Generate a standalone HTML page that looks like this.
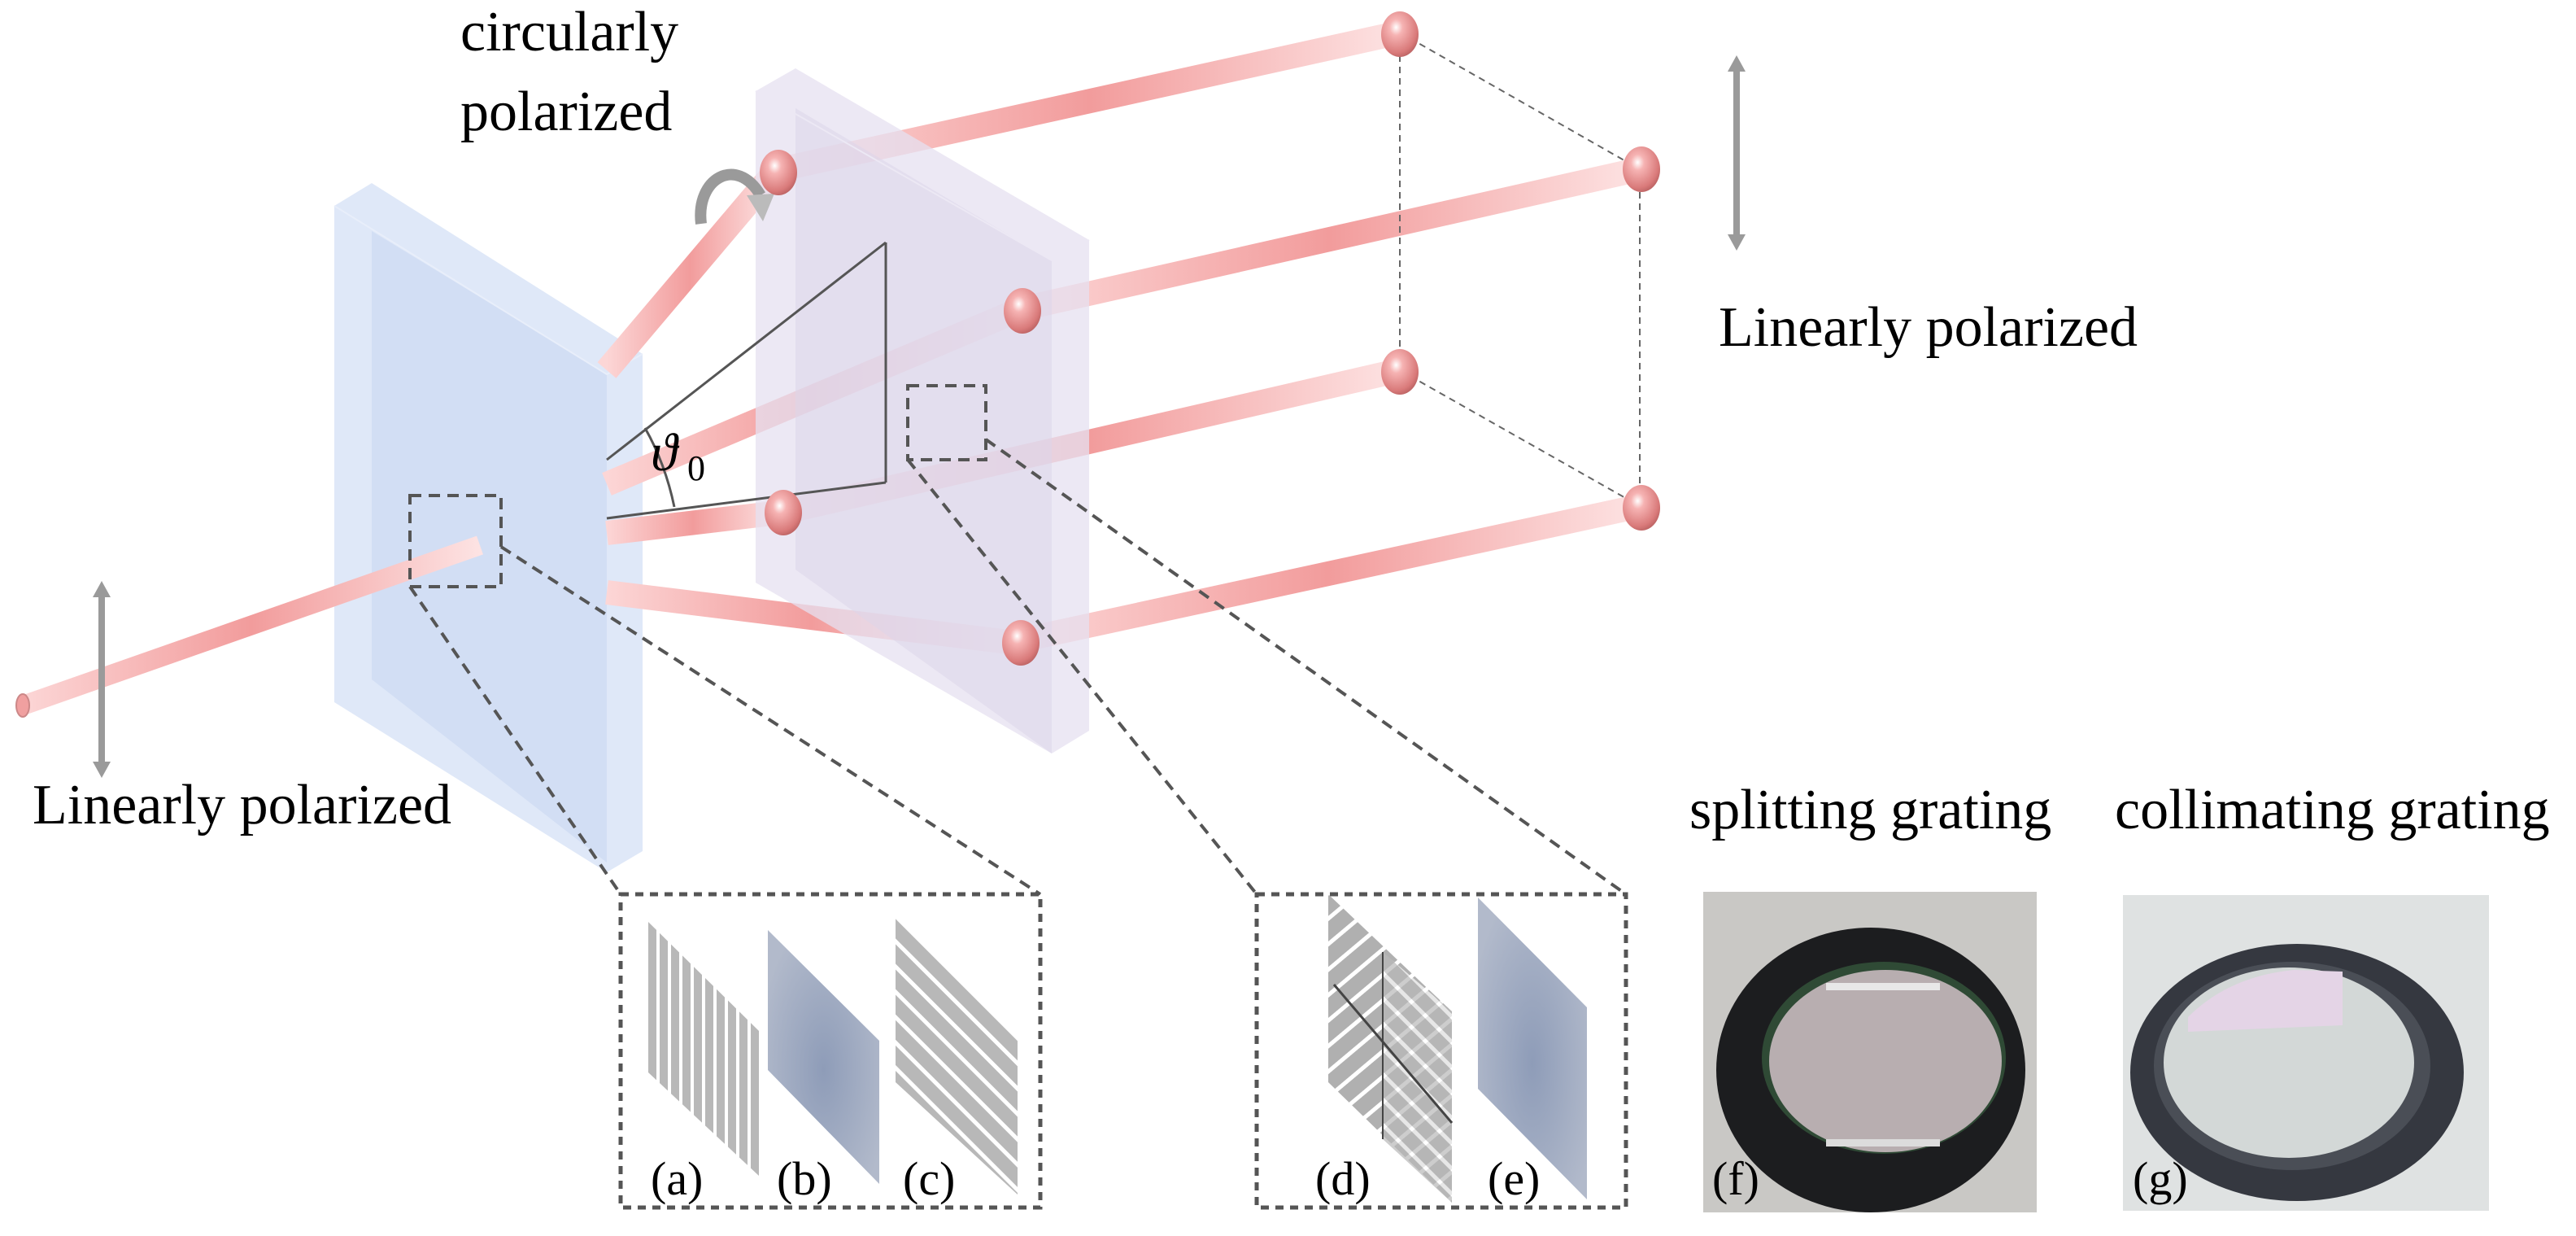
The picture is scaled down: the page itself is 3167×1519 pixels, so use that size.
<!DOCTYPE html>
<html><head><meta charset="utf-8"><style>
html,body{margin:0;padding:0;background:#fff}
svg{display:block}
</style></head><body>
<svg width="3167" height="1519" viewBox="0 0 3167 1519" xmlns="http://www.w3.org/2000/svg">
<defs>
<linearGradient id="bm" x1="0" y1="0" x2="1" y2="0">
<stop offset="0" stop-color="#fcd6d6"/><stop offset="0.5" stop-color="#f29c9c"/><stop offset="1" stop-color="#fde3e3"/>
</linearGradient>
<radialGradient id="sp" cx="0.4" cy="0.35" r="0.7">
<stop offset="0" stop-color="#fff"/><stop offset="0.25" stop-color="#f6b3b3"/><stop offset="0.8" stop-color="#d97a7a"/><stop offset="1" stop-color="#b86060"/>
</radialGradient>
<radialGradient id="bg" cx="0.5" cy="0.55" r="0.6">
<stop offset="0" stop-color="#8e9cb8"/><stop offset="1" stop-color="#b2bacb"/>
</radialGradient>
<pattern id="vs" width="14" height="20" patternUnits="userSpaceOnUse">
<rect width="14" height="20" fill="#b8b8b8"/><rect x="9" width="4" height="20" fill="#fff"/>
</pattern>
<pattern id="ds" width="22" height="22" patternUnits="userSpaceOnUse" patternTransform="rotate(45)">
<rect width="22" height="22" fill="#b8b8b8"/><rect y="15" width="22" height="5" fill="#fff"/>
</pattern>
<pattern id="ds2" width="24" height="24" patternUnits="userSpaceOnUse" patternTransform="rotate(-40)">
<rect width="24" height="24" fill="#b0b0b0"/><rect y="16" width="24" height="5" fill="#fff"/>
</pattern>
</defs>

<!-- blue plate -->
<polygon points="411,253 457,225 790,435 790,1046 746,1072 411,863" fill="#dfe8f8"/>
<polygon points="457,284 746,460 746,1060 457,835" fill="#d2def4"/>
<polyline points="411,253 746,460 790,435" fill="none" stroke="#e8eefa" stroke-width="2"/>

<!-- beams -->
<g stroke="url(#bm)" stroke-linecap="butt" fill="none">
<line x1="28" y1="867" x2="590" y2="670" stroke-width="24"/>
<line x1="746" y1="455" x2="950" y2="214" stroke-width="30"/>
<line x1="746" y1="595" x2="1250" y2="382" stroke-width="30"/>
<line x1="746" y1="655" x2="958" y2="630" stroke-width="30"/>
<line x1="746" y1="728" x2="1248" y2="790" stroke-width="30"/>
<line x1="960" y1="208" x2="1721" y2="40" stroke-width="30"/>
<line x1="1254" y1="380" x2="2016" y2="208" stroke-width="30"/>
<line x1="961" y1="630" x2="1721" y2="455" stroke-width="30"/>
<line x1="1250" y1="788" x2="2016" y2="622" stroke-width="30"/>
</g>
<ellipse cx="28" cy="867" rx="8" ry="14" fill="#f0a0a0" stroke="#c88" stroke-width="2"/>

<!-- purple plate -->
<polygon points="929,112 978,84 1339,295 1339,898 1293,926 929,716" fill="#e6e0f0" opacity="0.75"/>
<polygon points="978,133 1293,320 1293,926 978,700" fill="#ddd5ea" opacity="0.55"/>
<polyline points="929,112 1293,320 1339,295" fill="none" stroke="#ece8f4" stroke-width="2"/>

<!-- triangle -->
<g stroke="#555" stroke-width="3" fill="none">
<line x1="746" y1="565" x2="1089" y2="298"/>
<line x1="1089" y1="298" x2="1089" y2="593"/>
<line x1="746" y1="637" x2="1089" y2="593"/>
<path d="M793,526 Q818,570 829,623"/>
</g>
<text x="800" y="578" font-size="66" font-style="italic" font-family="'Liberation Serif','DejaVu Serif',serif">ϑ</text>
<text x="845" y="590" font-size="44" font-family="'Liberation Serif',serif">0</text>

<!-- curved arrow -->
<path d="M862,275 C855,220 905,190 935,240" fill="none" stroke="#9a9a9a" stroke-width="14"/>
<polygon points="918,240 952,238 938,272" fill="#bbb"/>

<!-- dashed cube -->
<g stroke="#666" stroke-width="2" stroke-dasharray="8,6" fill="none">
<line x1="1721" y1="40" x2="1721" y2="455"/>
<line x1="2016" y1="208" x2="2016" y2="622"/>
<line x1="1721" y1="40" x2="2016" y2="208"/>
<line x1="1721" y1="455" x2="2016" y2="622"/>
</g>

<!-- spheres -->
<g fill="url(#sp)">
<ellipse cx="957" cy="212" rx="23" ry="28"/>
<ellipse cx="1721" cy="42" rx="23" ry="28"/>
<ellipse cx="1257" cy="382" rx="23" ry="28"/>
<ellipse cx="2018" cy="208" rx="23" ry="28"/>
<ellipse cx="963" cy="630" rx="23" ry="28"/>
<ellipse cx="1721" cy="457" rx="23" ry="28"/>
<ellipse cx="1255" cy="790" rx="23" ry="28"/>
<ellipse cx="2018" cy="624" rx="23" ry="28"/>
</g>

<!-- double arrows -->
<g fill="#9a9a9a">
<rect x="121" y="728" width="8" height="214"/>
<polygon points="125,714 114,734 136,734"/><polygon points="125,956 114,936 136,936"/>
<rect x="2131" y="82" width="8" height="212"/>
<polygon points="2135,68 2124,88 2146,88"/><polygon points="2135,308 2124,288 2146,288"/>
</g>

<!-- zoom dashed boxes -->
<g stroke="#555" stroke-width="4" stroke-dasharray="14,9" fill="none">
<rect x="504" y="609" width="112" height="112"/>
<rect x="1116" y="474" width="96" height="91"/>
<line x1="504" y1="721" x2="763" y2="1099"/>
<line x1="616" y1="672" x2="1279" y2="1099"/>
<line x1="1116" y1="565" x2="1545" y2="1099"/>
<line x1="1212" y1="540" x2="1999" y2="1099"/>
<rect x="763" y="1099" width="516" height="385" stroke-dasharray="10,8" stroke-width="5"/>
<rect x="1545" y="1099" width="454" height="385" stroke-dasharray="10,8" stroke-width="5"/>
</g>

<!-- panels -->
<polygon points="797,1133 933,1267 933,1445 797,1318" fill="url(#vs)"/>
<polygon points="944,1143 1081,1279 1081,1455 944,1315" fill="url(#bg)"/>
<polygon points="1101,1125 1251,1275 1251,1468 1101,1330" fill="url(#ds)"/>
<polygon points="1633,1099 1785,1243 1785,1478 1633,1330" fill="url(#ds2)"/>
<polygon points="1700,1170 1785,1243 1785,1478 1700,1400" fill="url(#ds)" opacity="0.7"/>
<line x1="1640" y1="1210" x2="1785" y2="1380" stroke="#444" stroke-width="3"/>
<line x1="1700" y1="1170" x2="1700" y2="1400" stroke="#444" stroke-width="2"/>
<polygon points="1817,1103 1951,1238 1951,1474 1817,1338" fill="url(#bg)"/>

<!-- photos -->
<rect x="2094" y="1096" width="410" height="394" fill="#c9c8c5"/>
<ellipse cx="2300" cy="1315" rx="190" ry="175" fill="#1c1d1f"/>
<ellipse cx="2316" cy="1300" rx="150" ry="118" fill="#2f4a35"/>
<ellipse cx="2318" cy="1304" rx="143" ry="112" fill="#b8aeb0"/>
<rect x="2245" y="1208" width="140" height="9" fill="#e8e8e8"/>
<rect x="2245" y="1400" width="140" height="9" fill="#dcdcdc"/>
<rect x="2610" y="1100" width="450" height="388" fill="#dfe2e2"/>
<ellipse cx="2824" cy="1318" rx="205" ry="158" fill="#353840"/>
<ellipse cx="2818" cy="1310" rx="170" ry="128" fill="#4a4e56"/>
<ellipse cx="2814" cy="1306" rx="154" ry="117" fill="#d3d8d7"/>
<path d="M2690,1250 Q2740,1200 2820,1192 L2880,1194 L2880,1260 L2690,1268Z" fill="#e4d4e6"/>

<g font-family="'Liberation Serif','Times New Roman',serif" fill="#000">
<g font-size="58">
<text x="800" y="1468">(a)</text><text x="955" y="1468">(b)</text><text x="1110" y="1468">(c)</text>
<text x="1617" y="1468">(d)</text><text x="1829" y="1468">(e)</text>
<text x="2105" y="1468">(f)</text><text x="2622" y="1468">(g)</text>
</g>
<g font-size="70">
<text x="566" y="62">circularly</text>
<text x="566" y="160">polarized</text>
<text x="40" y="1012">Linearly polarized</text>
<text x="2113" y="425">Linearly polarized</text>
<text x="2077" y="1018">splitting grating</text>
<text x="2600" y="1018">collimating grating</text>
</g>
</g>
</svg>
</body></html>
